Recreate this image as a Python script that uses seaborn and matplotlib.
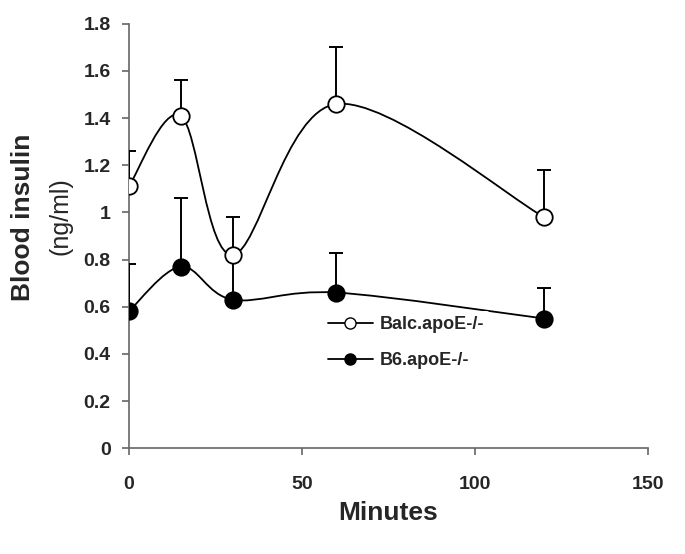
import numpy as np
import matplotlib
matplotlib.use("Agg")
import matplotlib.pyplot as plt
import seaborn as sns
from matplotlib.path import Path
from matplotlib.patches import PathPatch
from matplotlib.lines import Line2D

minutes = [0, 15, 30, 60, 120]
balc = [1.11, 1.41, 0.82, 1.46, 0.98]
balc_err = [0.15, 0.15, 0.16, 0.24, 0.20]
b6 = [0.58, 0.77, 0.63, 0.66, 0.55]
b6_err = [0.20, 0.29, 0.17, 0.17, 0.13]
series_names = ["Balc.apoE-/-", "B6.apoE-/-"]


def smooth_path(xs, ys):
    # Excel-style smoothed line: cubic Bezier segments through each point
    p = np.column_stack([xs, ys]).astype(float)
    ext = np.vstack([p[0], p, p[-1]])
    verts = [p[0]]
    codes = [Path.MOVETO]
    for i in range(len(p) - 1):
        p0, p1, p2, p3 = ext[i], ext[i + 1], ext[i + 2], ext[i + 3]
        verts += [p1 + (p2 - p0) / 6, p2 - (p3 - p1) / 6, p2]
        codes += [Path.CURVE4] * 3
    return Path(verts, codes)


sns.set_theme(style="ticks")
plt.rcParams['font.family'] = ['Liberation Sans', 'DejaVu Sans']

fig = plt.figure(figsize=(6.85, 5.54), dpi=100)
ax = fig.add_axes([0.188, 0.191, 0.758, 0.766])

for ys, err in [(balc, balc_err), (b6, b6_err)]:
    ax.errorbar(minutes, ys, yerr=[np.zeros(len(ys)), err], fmt="none",
                ecolor="black", elinewidth=1.4, capsize=5, capthick=1.4, zorder=2)

for ys in [balc, b6]:
    ax.add_patch(PathPatch(smooth_path(minutes, ys), facecolor="none",
                           edgecolor="black", lw=1.3, zorder=3))

sns.scatterplot(x=minutes, y=balc, ax=ax, s=140, color="white",
                edgecolor="black", linewidth=1.3, zorder=4)
sns.scatterplot(x=minutes, y=b6, ax=ax, s=140, color="black",
                edgecolor="black", linewidth=1.3, zorder=4)

ax.set_xlim(0, 150)
ax.set_ylim(0, 1.8)
ax.set_xticks([0, 50, 100, 150])
ax.set_yticks(np.arange(0, 1.81, 0.2))
ax.set_yticklabels(["0", "0.2", "0.4", "0.6", "0.8", "1", "1.2", "1.4", "1.6", "1.8"])
ax.tick_params(axis="both", direction="out", length=5, width=1.2, color="#666666",
               labelsize=14)
ax.tick_params(axis="y", pad=8)
ax.tick_params(axis="x", pad=15)
for lab in ax.get_xticklabels() + ax.get_yticklabels():
    lab.set_fontweight("bold")
for side in ["left", "bottom"]:
    ax.spines[side].set_color("#666666")
    ax.spines[side].set_linewidth(1.2)
sns.despine(ax=ax)
ax.spines["left"].set_zorder(1)

ax.set_xlabel("Minutes", fontsize=19, fontweight="bold", labelpad=6)
fig.text(0.034, 0.607, "Blood insulin", rotation=90, fontsize=19, fontweight="bold",
         ha="center", va="center")
fig.text(0.088, 0.61, "(ng/ml)", rotation=90, fontsize=18, ha="center", va="center")

handles = [
    Line2D([], [], color="black", lw=1.3, marker="o", markersize=8,
           markerfacecolor="white", markeredgecolor="black"),
    Line2D([], [], color="black", lw=1.3, marker="o", markersize=8,
           markerfacecolor="black", markeredgecolor="black"),
]
leg = ax.legend(handles, series_names, loc="center left", bbox_to_anchor=(0.355, 0.249),
                frameon=True, facecolor="white", edgecolor="none", framealpha=1,
                handlelength=2.5, handletextpad=0.4, labelspacing=1.05, borderpad=0.3,
                prop={"weight": "bold", "size": 13})
leg.set_zorder(3.5)

fig.savefig("out.png", dpi=100)
